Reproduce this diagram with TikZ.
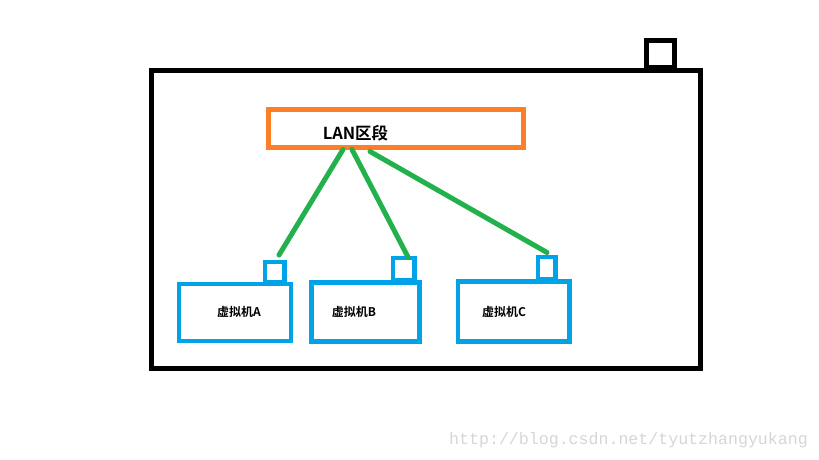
\documentclass[tikz,border=0pt]{standalone}
\usepackage{fontspec}
\newfontfamily\cjk{Noto Sans CJK SC Bold}
\newfontfamily\wmfont{Liberation Mono}
\definecolor{paintorange}{HTML}{FF7F27}
\definecolor{paintgreen}{HTML}{22B14C}
\definecolor{paintblue}{HTML}{00A2E8}
\definecolor{wmgray}{HTML}{D6D6D6}
\tikzset{
  hostbox/.style = {draw = black, line width = 5pt, rectangle, inner sep = 0pt},
  lanbox/.style = {draw = paintorange, line width = 5pt, rectangle, inner sep = 0pt},
  vmbox/.style = {draw = paintblue, line width = 4.6pt, rectangle, inner sep = 0pt},
  link/.style = {draw = paintgreen, line width = 5pt, line cap = round},
  vmtext/.style = {font = \cjk\fontsize{12}{14}\selectfont, inner sep = 0pt},
}

\begin{document}
\begin{tikzpicture}[x = 1pt, y = -1pt]
    \useasboundingbox[fill = white] (0, 0) rectangle (819, 460);

    \node[hostbox, minimum width = 549pt, minimum height = 297.5pt] (host) at (425.5, 219.25) {};
    \node[hostbox, minimum width = 28pt, minimum height = 27pt, anchor = south] (hostport) at (660.5, 70.5) {};

    \node[lanbox, minimum width = 255pt, minimum height = 38pt] (lan) at (396, 128) {};
    \node[font = \cjk\fontsize{16.5}{18}\selectfont, inner sep = 0pt] (lanlabel) at (355.5, 133) {LAN区段};

    \node[vmbox, minimum width = 112pt, minimum height = 57pt] (vmA) at (235, 312.5) {};
    \node[vmbox, minimum width = 19.5pt, minimum height = 20pt, anchor = south] (portA) at (274.7, 284.3) {};
    \node[vmtext] (labelA) at (239, 312) {虚拟机A};

    \node[vmbox, minimum width = 108.5pt, minimum height = 59.5pt] (vmB) at (365.5, 312) {};
    \node[vmbox, minimum width = 21.5pt, minimum height = 22pt, anchor = south] (portB) at (403.7, 282.3) {};
    \node[vmtext] (labelB) at (354, 312) {虚拟机B};

    \node[vmbox, minimum width = 111.5pt, minimum height = 60.5pt] (vmC) at (513.7, 311.5) {};
    \node[vmbox, minimum width = 17.5pt, minimum height = 22pt, anchor = south] (portC) at (546.7, 281.3) {};
    \node[vmtext] (labelC) at (504, 312) {虚拟机C};

    \coordinate (endA) at (279, 255);
    \coordinate (endB) at (408, 257);
    \coordinate (endC) at (547, 252.5);

    \draw[link] ([xshift = -53pt] lan.south) -- (endA);
    \draw[link] ([xshift = -44pt] lan.south) -- (endB);
    \draw[link] ([xshift = -26pt, yshift = -2pt] lan.south) -- (endC);

    \node[font = \wmfont\fontsize{16.6}{18}\selectfont, text = wmgray, anchor = west, inner sep = 0pt]
      (watermark) at (449, 440) {http://blog.csdn.net/tyutzhangyukang};
  \end{tikzpicture}
\end{document}
